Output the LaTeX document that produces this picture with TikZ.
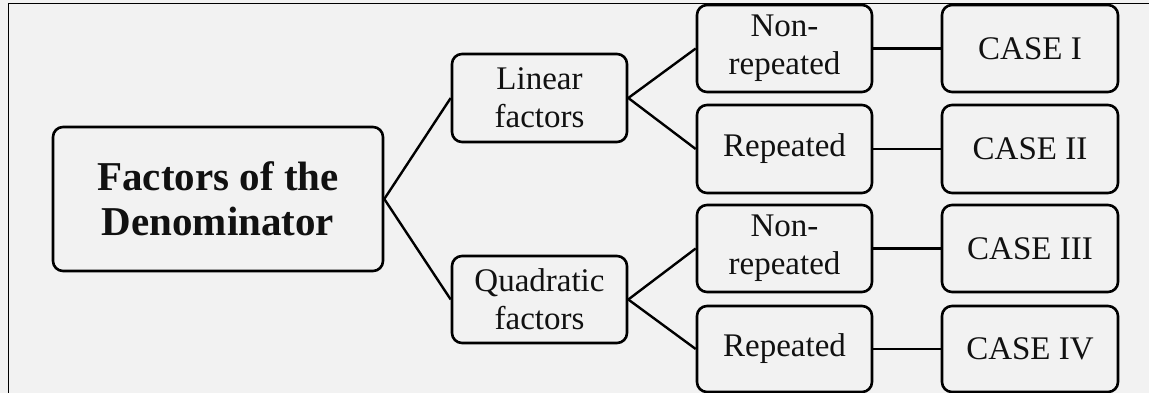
\documentclass[tikz,border=0pt]{standalone}
\usepackage{fontspec}
\setmainfont{Liberation Serif}
\definecolor{bgc}{HTML}{F2F2F2}
\definecolor{ink}{HTML}{111111}
\begin{document}
\begin{tikzpicture}[x=1pt,y=-1pt,
  box/.style={draw=black,line width=2.6pt,rounded corners=10pt,inner sep=0pt,
    align=center,text=ink,font=\fontsize{33}{38}\selectfont},
  mainbox/.style={box,font=\fontsize{41}{45}\selectfont\bfseries},
  conn/.style={line width=2.4pt,draw=black},
  frameline/.style={line width=1.8pt,draw=black}]
\fill[bgc] (0,0) rectangle (1149,393);
\useasboundingbox (0,0) rectangle (1149,393);
\draw[frameline] (8.5,393) -- (8.5,3.5) -- (1149,3.5);
% nodes
\node[mainbox,minimum width=330pt,minimum height=144pt] (main) at (218,199) {Factors of the\\Denominator};
\node[box,minimum width=175pt,minimum height=88pt] (lin) at (539.5,98) {Linear\\factors};
\node[box,minimum width=175pt,minimum height=87pt] (quad) at (539.5,299.5) {Quadratic\\factors};
\node[box,minimum width=175pt,minimum height=87pt] (nr1) at (784.5,48.5) {Non-\\repeated};
\node[box,minimum width=175pt,minimum height=88pt] (r1) at (784.5,149) {Repeated};
\node[box,minimum width=175pt,minimum height=87pt] (nr2) at (784.5,248.5) {Non-\\repeated};
\node[box,minimum width=175pt,minimum height=86pt] (r2) at (784.5,349) {Repeated};
\node[box,minimum width=176pt,minimum height=87pt] (c1) at (1030,48.5) {CASE I};
\node[box,minimum width=176pt,minimum height=88pt] (c2) at (1030,149) {CASE II};
\node[box,minimum width=176pt,minimum height=87pt] (c3) at (1030,248.5) {CASE III};
\node[box,minimum width=176pt,minimum height=86pt] (c4) at (1030,349) {CASE IV};
% connectors
\draw[conn] (main.east) -- (lin.west);
\draw[conn] (main.east) -- (quad.west);
\draw[conn] (lin.east) -- (nr1.west);
\draw[conn] (lin.east) -- (r1.west);
\draw[conn] (quad.east) -- (nr2.west);
\draw[conn] (quad.east) -- (r2.west);
\draw[conn] (nr1.east) -- (c1.west);
\draw[conn] (r1.east) -- (c2.west);
\draw[conn] (nr2.east) -- (c3.west);
\draw[conn] (r2.east) -- (c4.west);
\end{tikzpicture}
\end{document}
